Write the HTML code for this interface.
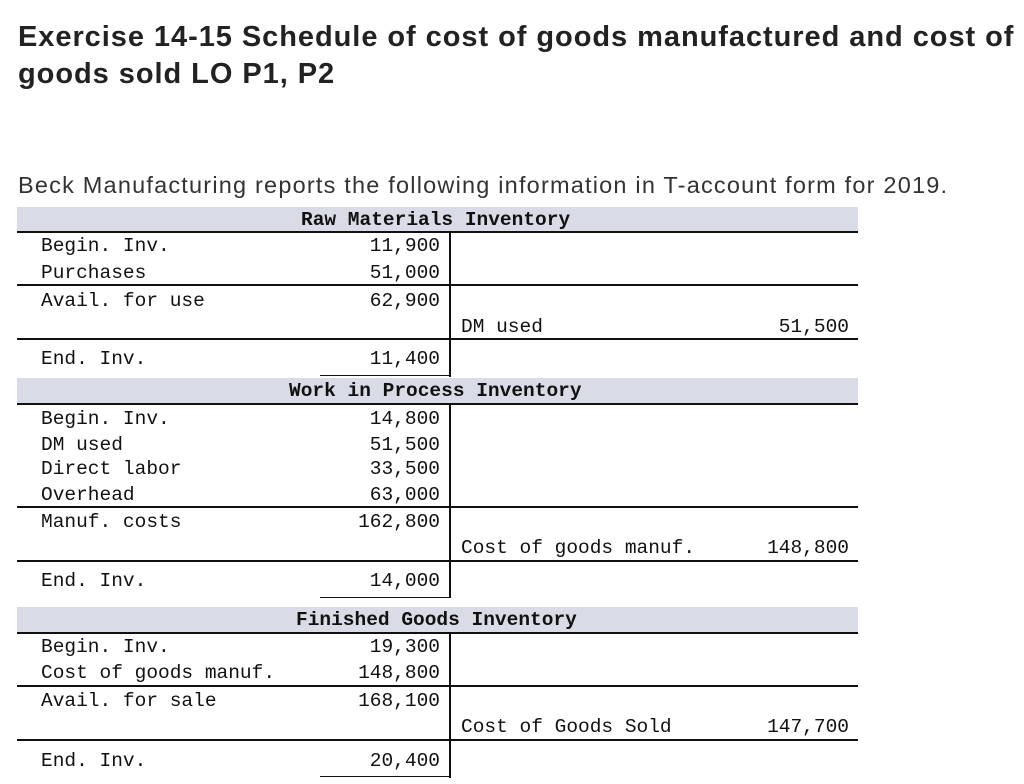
<!DOCTYPE html>
<html><head><meta charset="utf-8">
<style>
body{margin:0;width:1024px;height:784px;background:#fff;position:relative;overflow:hidden;font-family:"Liberation Sans",sans-serif;color:#222}
.a{position:absolute;white-space:nowrap}
.t{font-weight:bold;font-size:29px;left:18px;letter-spacing:0.95px}
.m{font-family:"Liberation Mono",monospace;font-size:19.5px;letter-spacing:0;color:#111;line-height:20px;margin-top:1px}
.r{text-align:right}
.band{position:absolute;left:17px;width:841px;height:25px;background:#d9dce6}
.hl{position:absolute;left:17px;width:841px;height:2px;background:#111}
.vl{position:absolute;left:449px;width:2px;background:#111}
.ul{position:absolute;left:320px;width:130px;height:1px;background:#111}
</style></head><body>
<div class="a t" style="top:21px">Exercise 14-15 Schedule of cost of goods manufactured and cost of</div>
<div class="a t" style="top:58px">goods sold LO P1, P2</div>
<div class="a" style="top:172px;left:18px;font-size:23.5px;letter-spacing:1.2px;color:#333">Beck Manufacturing reports the following information in T-account form for 2019.</div>

<div class="band" style="top:207px"></div>
<div class="a m" style="top:209px;left:301px;font-weight:bold">Raw Materials Inventory</div>
<div class="hl" style="top:231px"></div>
<div class="vl" style="top:231px;height:146px"></div>
<div class="a m" style="top:235px;left:41px">Begin. Inv.</div><div class="a m r" style="top:235px;right:584px">11,900</div>
<div class="a m" style="top:262px;left:41px">Purchases</div><div class="a m r" style="top:262px;right:584px">51,000</div>
<div class="hl" style="top:284px"></div>
<div class="a m" style="top:290px;left:41px">Avail. for use</div><div class="a m r" style="top:290px;right:584px">62,900</div>
<div class="a m" style="top:316px;left:461px">DM used</div><div class="a m r" style="top:316px;right:175px">51,500</div>
<div class="hl" style="top:338px"></div>
<div class="a m" style="top:348px;left:41px">End. Inv.</div><div class="a m r" style="top:348px;right:584px">11,400</div>
<div class="ul" style="top:375px"></div>

<div class="band" style="top:378px"></div>
<div class="a m" style="top:380px;left:289px;font-weight:bold">Work in Process Inventory</div>
<div class="hl" style="top:403px"></div>
<div class="vl" style="top:403px;height:195px"></div>
<div class="a m" style="top:408px;left:41px">Begin. Inv.</div><div class="a m r" style="top:408px;right:584px">14,800</div>
<div class="a m" style="top:434px;left:41px">DM used</div><div class="a m r" style="top:434px;right:584px">51,500</div>
<div class="a m" style="top:458px;left:41px">Direct labor</div><div class="a m r" style="top:458px;right:584px">33,500</div>
<div class="a m" style="top:484px;left:41px">Overhead</div><div class="a m r" style="top:484px;right:584px">63,000</div>
<div class="hl" style="top:506px"></div>
<div class="a m" style="top:511px;left:41px">Manuf. costs</div><div class="a m r" style="top:511px;right:584px">162,800</div>
<div class="a m" style="top:537px;left:461px">Cost of goods manuf.</div><div class="a m r" style="top:537px;right:175px">148,800</div>
<div class="hl" style="top:560px"></div>
<div class="a m" style="top:570px;left:41px">End. Inv.</div><div class="a m r" style="top:570px;right:584px">14,000</div>
<div class="ul" style="top:597px"></div>

<div class="band" style="top:607px"></div>
<div class="a m" style="top:609px;left:296px;font-weight:bold">Finished Goods Inventory</div>
<div class="hl" style="top:632px"></div>
<div class="vl" style="top:632px;height:146px"></div>
<div class="a m" style="top:636px;left:41px">Begin. Inv.</div><div class="a m r" style="top:636px;right:584px">19,300</div>
<div class="a m" style="top:662px;left:41px">Cost of goods manuf.</div><div class="a m r" style="top:662px;right:584px">148,800</div>
<div class="hl" style="top:685px"></div>
<div class="a m" style="top:690px;left:41px">Avail. for sale</div><div class="a m r" style="top:690px;right:584px">168,100</div>
<div class="a m" style="top:716px;left:461px">Cost of Goods Sold</div><div class="a m r" style="top:716px;right:175px">147,700</div>
<div class="hl" style="top:739px"></div>
<div class="a m" style="top:750px;left:41px">End. Inv.</div><div class="a m r" style="top:750px;right:584px">20,400</div>
<div class="ul" style="top:776px"></div>
</body></html>
